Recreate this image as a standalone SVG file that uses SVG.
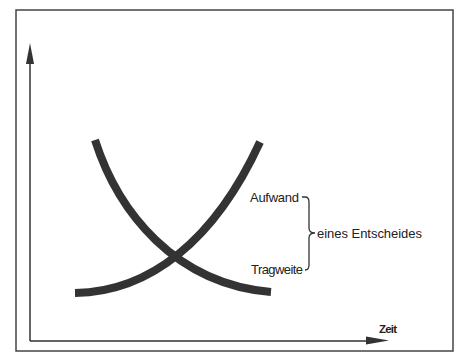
<svg xmlns="http://www.w3.org/2000/svg" width="463" height="352" viewBox="0 0 463 352">
<style>
.frame{fill:none;stroke:#444;stroke-width:1.5}
.axis{fill:none;stroke:#333;stroke-width:1.5}
.curve{fill:none;stroke:#333;stroke-width:8}
.brace{fill:none;stroke:#333;stroke-width:1.3}
.lbl{font-family:"Liberation Sans",Arial,sans-serif;font-size:13px;fill:#222}
.ax{font-family:"Liberation Sans",Arial,sans-serif;font-size:11.5px;font-weight:bold;fill:#222}
</style>
<rect width="463" height="352" fill="#fff"/>
<rect class="frame" x="16" y="10" width="437" height="341"/>
<g id="axes">
<path class="axis" d="M30,341 V60 M30,341 H370"/>
<path d="M30,43 L26,64 L34,64 Z" fill="#333"/>
<path d="M389,340.5 L366,336.5 L366,344.5 Z" fill="#333"/>
<text class="ax" x="379" y="333" textLength="18">Zeit</text>
</g>
<g id="curves">
<path id="aufwand-curve" class="curve" d="M95,140 C118,212 175,284 271,292"/>
<path id="tragweite-curve" class="curve" d="M75,293 C150,292 215,240 260,142"/>
</g>
<g id="labels">
<text class="lbl" x="250" y="202" textLength="49">Aufwand</text>
<text class="lbl" x="251" y="274" textLength="52">Tragweite</text>
<text class="lbl" x="317" y="238" textLength="105">eines Entscheides</text>
<path class="brace" d="M302,197 H305 Q309,197 309,202 V228 Q309,233 315,233 Q309,233 309,238 V265 Q309,270 305,270 H305"/>
</g>
</svg>
